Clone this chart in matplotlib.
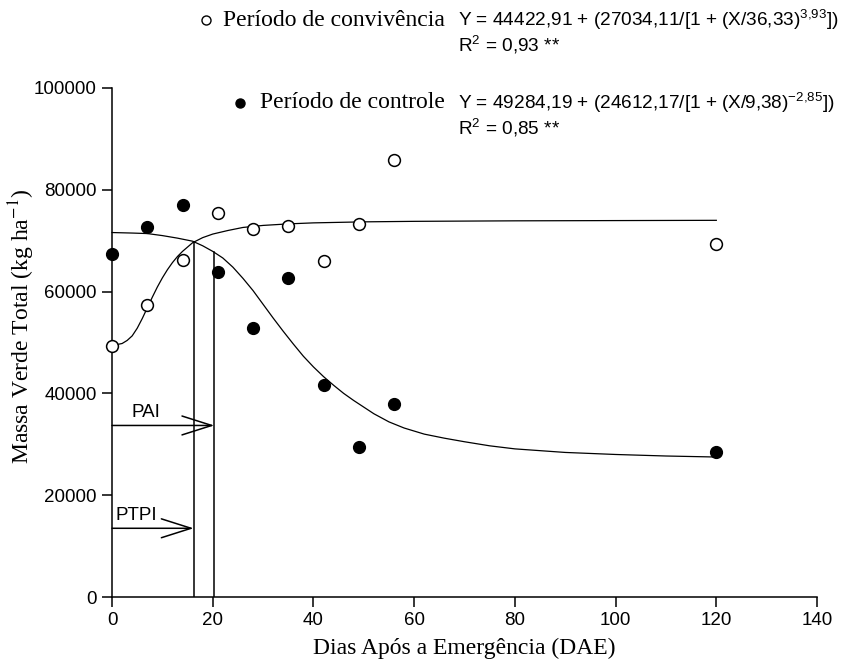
import matplotlib
matplotlib.use("Agg")
import matplotlib.pyplot as plt
from matplotlib.lines import Line2D

# observed data (DAE, kg/ha)
dias = [0, 7, 14, 21, 28, 35, 42, 49, 56, 120]
convivencia = [49300, 57300, 66300, 75400, 72200, 72800, 66100, 73300, 85800, 69300]
controle = [67400, 72700, 77100, 63900, 52800, 62700, 41700, 29500, 37900, 28400]

# fitted curves
curva_conv_x = [0, 2, 3, 4, 5, 6, 7, 8, 9, 10, 11, 12, 13, 14, 16, 18, 20, 23, 26,
                30, 35, 40, 50, 60, 80, 120]
curva_conv_y = [49400, 49800, 50400, 51300, 52800, 54700, 56800, 58900, 60900, 62700,
                64300, 65700, 66900, 67900, 69600, 70600, 71300, 72000, 72600, 73000,
                73300, 73500, 73700, 73800, 73900, 74000]
curva_ctrl_x = [0, 4, 7, 10, 13, 16, 18, 20, 22, 24, 26, 28, 30, 32, 34, 36, 38, 40,
                42, 44, 46, 48, 50, 52, 55, 58, 62, 66, 70, 75, 80, 90, 100, 110, 120]
curva_ctrl_y = [71600, 71500, 71400, 71000, 70500, 69900, 69000, 67900, 66600, 64800,
                62600, 60200, 57500, 54800, 52200, 49700, 47300, 45200, 43300, 41600,
                40000, 38600, 37300, 36000, 34400, 33200, 32000, 31200, 30500, 29700,
                29100, 28400, 28000, 27700, 27500]

# critical periods
ptpi_x, ptpi_top, ptpi_y = 16.2, 69800, 13500
pai_x, pai_top, pai_y = 20.3, 67800, 33700

plt.rcParams["mathtext.fontset"] = "custom"
plt.rcParams["mathtext.rm"] = "Liberation Sans"
plt.rcParams["mathtext.it"] = "Liberation Sans:italic"

serif = "Liberation Serif"
sans = "Liberation Sans"

fig = plt.figure(figsize=(8.5, 6.66), dpi=100)
ax = fig.add_axes([0.1318, 0.1036, 0.8294, 0.7643])

ax.plot(curva_conv_x, curva_conv_y, color="black", lw=0.9, clip_on=False, zorder=2)
ax.plot(curva_ctrl_x, curva_ctrl_y, color="black", lw=0.9, clip_on=False, zorder=2)
ax.plot(dias, convivencia, "o", ms=8.5, mfc="white", mec="black", mew=1.1,
        clip_on=False, zorder=3)
ax.plot(dias, controle, "o", ms=8.5, mfc="black", mec="black", clip_on=False, zorder=3)

ax.plot([ptpi_x, ptpi_x], [0, ptpi_top], color="black", lw=1.1)
ax.plot([pai_x, pai_x], [0, pai_top], color="black", lw=1.1)

for x_end, y in [(pai_x, pai_y), (ptpi_x, ptpi_y)]:
    ax.annotate("", xy=(x_end, y), xytext=(0, y),
                arrowprops=dict(arrowstyle="->,head_length=1.07,head_width=0.34",
                                color="black", lw=1.1, shrinkA=0, shrinkB=0,
                                mutation_scale=20))
ax.text(6.8, 36300, "PAI", family=sans, fontsize=13.5, ha="center", va="center")
ax.text(4.8, 16100, "PTPI", family=sans, fontsize=13.5, ha="center", va="center")

ax.set_xlim(0, 140)
ax.set_ylim(0, 100000)
ax.set_xticks(range(0, 141, 20))
ax.set_yticks(range(0, 100001, 20000))
for s in ["top", "right"]:
    ax.spines[s].set_visible(False)
for s in ["left", "bottom"]:
    ax.spines[s].set_linewidth(1.1)
ax.tick_params(direction="out", length=7, width=1.1, labelsize=13.5, pad=4)
for lab in ax.get_xticklabels() + ax.get_yticklabels():
    lab.set_family(sans)

ax.set_xlabel("Dias Após a Emergência (DAE)", family=serif, fontsize=17, labelpad=6)
ax.set_ylabel("Massa Verde Total (kg ha$^{-1}$)", family=serif, fontsize=17,
              math_fontfamily="stix", va="center")
ax.yaxis.set_label_coords(-0.128, 0.532)

# legend block with equations
fig.add_artist(Line2D([206 / 850], [1 - 20 / 666], marker="o", ms=6.5, mfc="white",
                      mec="black", mew=1, transform=fig.transFigure))
fig.add_artist(Line2D([240 / 850], [1 - 103 / 666], marker="o", ms=6.5, mfc="black",
                      mec="black", transform=fig.transFigure))
fig.text(445 / 850, 1 - 20 / 666, "Período de convivência", family=serif, fontsize=17,
         ha="right", va="center")
fig.text(445 / 850, 1 - 103 / 666, "Período de controle", family=serif, fontsize=17,
         ha="right", va="center")
fig.text(458 / 850, 1 - 20 / 666,
         "Y = 44422,91 + (27034,11/[1 + (X/36,33)$^{3{,}93}$])",
         family=sans, fontsize=13.7, ha="left", va="center")
fig.text(458 / 850, 1 - 45 / 666, "R$^{2}$ = 0,93 **", family=sans, fontsize=13.7,
         ha="left", va="center")
fig.text(458 / 850, 1 - 103 / 666,
         "Y = 49284,19 + (24612,17/[1 + (X/9,38)$^{-2{,}85}$])",
         family=sans, fontsize=13.7, ha="left", va="center")
fig.text(458 / 850, 1 - 128 / 666, "R$^{2}$ = 0,85 **", family=sans, fontsize=13.7,
         ha="left", va="center")

fig.savefig("out.png", dpi=100)
